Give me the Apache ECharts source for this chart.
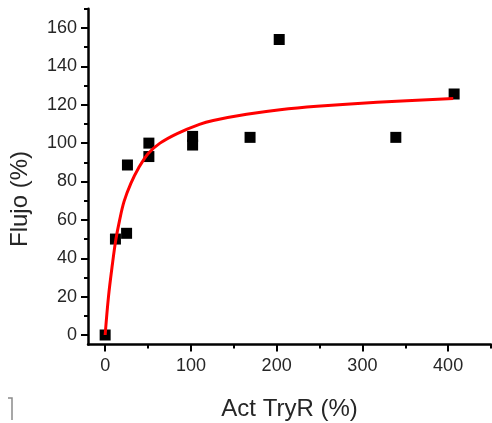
<!DOCTYPE html>
<html>
<head>
<meta charset="utf-8">
<script src="https://cdn.jsdelivr.net/npm/echarts@6/dist/echarts.min.js"></script>
<style>
  html, body { margin: 0; padding: 0; background: #fff; }
  #chart { width: 492px; height: 423px; }
</style>
</head>
<body>
<div id="chart"></div>
<script>
// Axis tick positions
const xTicks = [0, 100, 200, 300, 400];
const xMinorTicks = [50, 150, 250, 350, 450];
const yTicks = [0, 20, 40, 60, 80, 100, 120, 140, 160];
const yMinorTicks = [10, 30, 50, 70, 90, 110, 130, 150, 170];

// Measured points: TryR activity (%) vs flux (%)
const activity = [0, 12, 25, 26, 51, 51, 102, 102, 169, 203, 339, 407];
const flux     = [0, 50, 53, 88.6, 93, 100, 99, 103.5, 103, 154, 103, 125.6];

// Saturation fit curve
const fitActivity = [0, 3.9, 8.5, 12.4, 16.7, 22, 30, 39, 50, 64, 84, 110, 126, 165, 204, 247, 317, 406];
const fitFlux     = [0, 20, 37, 49.5, 59.5, 69.5, 79, 87, 94.5, 100, 105, 109.8, 111.8, 115, 117.4, 119.2, 121.3, 123.3];

const FONT = '"Liberation Sans", Arial, sans-serif';
const TEXT_COLOR = '#262626';

const chart = echarts.init(document.getElementById('chart'), null, { renderer: 'canvas' });

const baseX = { type: 'value', gridIndex: 0, min: -20, max: 450, splitLine: { show: false } };
const baseY = { type: 'value', gridIndex: 0, min: -5, max: 170, splitLine: { show: false } };

chart.setOption({
  animation: false,
  backgroundColor: '#fff',
  grid: { left: 88, right: 1, top: 8.8, bottom: 78.4, containLabel: false, outerBoundsMode: 'none' },
  xAxis: [
    Object.assign({}, baseX, {
      position: 'bottom',
      name: 'Act TryR (%)',
      nameLocation: 'middle',
      nameGap: 53,
      nameTextStyle: { fontFamily: FONT, fontSize: 24, color: TEXT_COLOR },
      axisLine: { show: true, onZero: false, lineStyle: { color: '#000', width: 2.5 } },
      axisTick: { show: true, inside: false, length: 7, customValues: xTicks, lineStyle: { color: '#000', width: 2 } },
      axisLabel: { show: true, margin: 12, customValues: xTicks, fontFamily: FONT, fontSize: 18, color: TEXT_COLOR }
    }),
    Object.assign({}, baseX, {
      position: 'bottom',
      axisLine: { show: false, onZero: false },
      axisTick: { show: true, inside: false, length: 4, customValues: xMinorTicks, lineStyle: { color: '#000', width: 2 } },
      axisLabel: { show: false }
    })
  ],
  yAxis: [
    Object.assign({}, baseY, {
      position: 'left',
      axisLine: { show: true, onZero: false, lineStyle: { color: '#000', width: 2.5 } },
      axisTick: { show: true, inside: false, length: 7, customValues: yTicks, lineStyle: { color: '#000', width: 2 } },
      axisLabel: { show: true, margin: 11, customValues: yTicks, fontFamily: FONT, fontSize: 18, color: TEXT_COLOR }
    }),
    Object.assign({}, baseY, {
      position: 'left',
      axisLine: { show: false, onZero: false },
      axisTick: { show: true, inside: false, length: 4, customValues: yMinorTicks, lineStyle: { color: '#000', width: 2 } },
      axisLabel: { show: false }
    })
  ],
  graphic: [
    {
      type: 'text',
      x: 20, y: 199,
      rotation: Math.PI / 2,
      style: {
        text: 'Flujo (%)',
        fontFamily: FONT, fontSize: 24, fill: TEXT_COLOR,
        align: 'center', verticalAlign: 'middle'
      }
    },
    {
      type: 'polyline',
      shape: { points: [[8, 398], [12, 398], [12, 420]] },
      style: { stroke: '#8a8a8a', lineWidth: 1.5, fill: null }
    }
  ],
  series: [
    {
      type: 'scatter',
      xAxisIndex: 0, yAxisIndex: 0,
      symbol: 'rect',
      symbolSize: 11,
      itemStyle: { color: '#000', opacity: 1 },
      data: activity.map((a, i) => [a, flux[i]]),
      z: 2
    },
    {
      type: 'line',
      xAxisIndex: 0, yAxisIndex: 0,
      smooth: 0.35,
      showSymbol: false,
      lineStyle: { color: '#ff0000', width: 3 },
      data: fitActivity.map((a, i) => [a, fitFlux[i]]),
      z: 3
    }
  ]
});
</script>
</body>
</html>
